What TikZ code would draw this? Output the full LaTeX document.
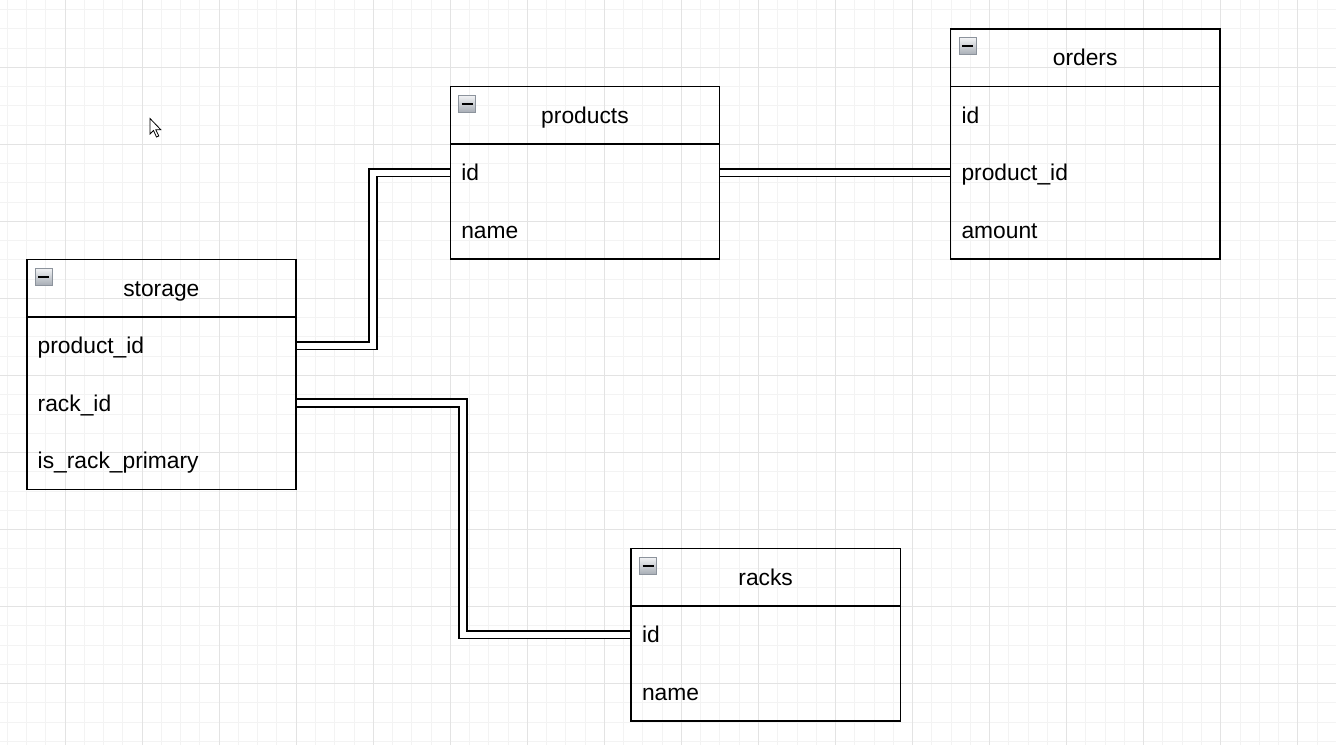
\documentclass[tikz,border=0pt]{standalone}
\usepackage{fontspec}
\setmainfont{Liberation Sans}
\usetikzlibrary{calc}
\definecolor{minorgrid}{HTML}{F3F3F3}
\definecolor{majorgrid}{HTML}{E3E3E3}
\definecolor{iconborder}{HTML}{8C939C}
\definecolor{icontop}{HTML}{F2F3F5}
\definecolor{iconbottom}{HTML}{A7ADB5}
\tikzset{
  erdfont/.style={font=\fontsize{22.8}{27}\selectfont, text height=17pt, text depth=1pt},
  hdr/.style={erdfont, minimum width=269.3pt, outer sep=0pt,
    minimum height=57.5pt, inner sep=0pt, anchor=north west},
  rowbox/.style={erdfont, minimum height=57.5pt, text width=247.3pt, inner xsep=11pt,
    inner ysep=0pt, outer sep=0pt, align=left, anchor=north west},
  frame/.style={draw=black, line width=1.6pt, line join=miter},
  iconbox/.style={rectangle, minimum size=17pt, inner sep=0pt, outer sep=0pt, draw=iconborder,
    line width=0.8pt, top color=icontop, bottom color=iconbottom,
    path picture={\draw[black, line width=2pt]
      ([xshift=3pt]path picture bounding box.west) --
      ([xshift=-3pt]path picture bounding box.east);}},
  conn/.style={draw=black, double=white, line width=1.6pt, double distance=6pt},
  gridminor/.style={draw=minorgrid, line width=0.9pt},
  gridmajor/.style={draw=majorgrid, line width=1pt},
  pointer/.style={draw=black, fill=white, line width=0.8pt, line join=miter}
}
\begin{document}
\begin{tikzpicture}[x=1pt,y=-1pt]
\useasboundingbox (0,0) rectangle (1336,745);
\fill[white] (0,0) rectangle (1336,745);
% grid
\foreach \i in {0,...,69} \draw[gridminor] ({7.3+19.26*\i},0) -- ++(0,745);
\foreach \i in {0,...,38} \draw[gridminor] (0,{9.5+19.26*\i}) -- ++(1336,0);
\foreach \i in {0,...,16} \draw[gridmajor] ({65.1+77.04*\i},0) -- ++(0,745);
\foreach \i in {0,...,8} \draw[gridmajor] (0,{67.3+77.04*\i}) -- ++(1336,0);

% storage
\node[hdr] (storage) at (26.7,259.3) {storage};
\node[rowbox] (storage-pid) at (storage.south west) {product\_id};
\node[rowbox] (storage-rid) at (storage-pid.south west) {rack\_id};
\node[rowbox] (storage-irp) at (storage-rid.south west) {is\_rack\_primary};

% products
\node[hdr] (products) at (450.3,86.3) {products};
\node[rowbox] (products-id) at (products.south west) {id};
\node[rowbox] (products-name) at (products-id.south west) {name};

% orders
\node[hdr] (orders) at (950.5,28.8) {orders};
\node[rowbox] (orders-id) at (orders.south west) {id};
\node[rowbox] (orders-pid) at (orders-id.south west) {product\_id};
\node[rowbox] (orders-amount) at (orders-pid.south west) {amount};

% racks
\node[hdr] (racks) at (631,548.3) {racks};
\node[rowbox] (racks-id) at (racks.south west) {id};
\node[rowbox] (racks-name) at (racks-id.south west) {name};

% connectors
\draw[conn] (storage-pid.east) -- ++(77,0) |- (products-id.west);
\draw[conn] (storage-rid.east) -- ++(167,0) |- (racks-id.west);
\draw[conn] (products-id.east) -- (orders-pid.west);

% frames
\draw[frame] (storage.north west) rectangle (storage-irp.south east);
\draw[frame] (products.north west) rectangle (products-name.south east);
\draw[frame] (orders.north west) rectangle (orders-amount.south east);
\draw[frame] (racks.north west) rectangle (racks-name.south east);
\draw[frame] (storage.south west) -- (storage.south east);
\draw[frame] (products.south west) -- (products.south east);
\draw[frame] (orders.south west) -- (orders.south east);
\draw[frame] (racks.south west) -- (racks.south east);

% collapse icons
\node[iconbox] (storage-icon) at ($(storage.north west)+(17,17.5)$) {};
\node[iconbox] (products-icon) at ($(products.north west)+(17,17.5)$) {};
\node[iconbox] (orders-icon) at ($(orders.north west)+(17,17.5)$) {};
\node[iconbox] (racks-icon) at ($(racks.north west)+(17,17.5)$) {};

% mouse pointer
\draw[pointer] (150,118.5) -- ++(0,15.5) -- ++(3.5,-3.5) -- ++(3,6.5) -- ++(2.3,-1)
  -- ++(-3,-6.3) -- ++(5,0) -- cycle;
\end{tikzpicture}
\end{document}
